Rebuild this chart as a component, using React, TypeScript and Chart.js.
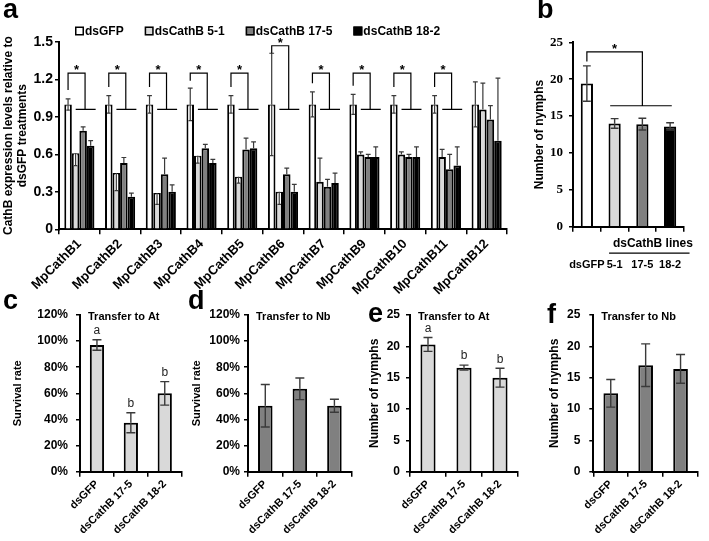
import React, { useEffect, useRef } from 'react';
import { Chart, registerables } from 'chart.js';
Chart.register(...registerables);

const FONT = "'Liberation Sans', Arial, Helvetica, sans-serif";
const SERIF = "'Liberation Serif', 'Times New Roman', serif";
Chart.defaults.font.family = FONT;
Chart.defaults.color = '#000';

// ---------- Panel a ----------
const genes = ['MpCathB1', 'MpCathB2', 'MpCathB3', 'MpCathB4', 'MpCathB5', 'MpCathB6', 'MpCathB7', 'MpCathB9', 'MpCathB10', 'MpCathB11', 'MpCathB12'];
const seriesNames = ['dsGFP', 'dsCathB 5-1', 'dsCathB 17-5', 'dsCathB 18-2'];
const aGFP = [1, 1, 1, 1, 1, 1, 1, 1, 1, 1, 1];
const aGFPErr = [0.045, 0.07, 0.07, 0.13, 0.07, 0.41, 0.1, 0.08, 0.07, 0.07, 0.18];
const a51 = [0.61, 0.45, 0.29, 0.59, 0.42, 0.3, 0.38, 0.6, 0.6, 0.58, 0.96];
const a51ErrUp = [0, 0, 0, 0, 0, 0, 0.19, 0.02, 0.02, 0.06, 0.21];
const a51ErrDown = [0.1, 0.14, 0.09, 0.06, 0.05, 0.1, 0, 0, 0, 0, 0];
const a175 = [0.79, 0.53, 0.44, 0.65, 0.64, 0.44, 0.34, 0.58, 0.58, 0.48, 0.88];
const a175Err = [0.03, 0.045, 0.13, 0.03, 0.09, 0.05, 0.06, 0.02, 0.02, 0.12, 0.11];
const a182 = [0.67, 0.26, 0.3, 0.53, 0.65, 0.3, 0.37, 0.58, 0.58, 0.51, 0.71];
const a182Err = [0.04, 0.03, 0.055, 0.03, 0.05, 0.06, 0.08, 0.08, 0.08, 0.15, 0.5];
const aBracketTop = [1.25, 1.25, 1.25, 1.25, 1.25, 1.47, 1.25, 1.25, 1.25, 1.25, null];
const aSigBase = 0.96;
const aYTitle = ['CathB expression levels relative to', 'dsGFP treatments'];

// ---------- Panel b ----------
const bLabels = ['dsGFP', '5-1', '17-5', '18-2'];
const bValues = [19.4, 14.0, 13.9, 13.6];
const bErr = [2.4, 0.65, 0.8, 0.5];
const bGroupLabel = 'dsCathB lines';
const bBracketTop = 23.7;
const bSigBase = 16.4;

// ---------- Panels c-f ----------
const cdefLabels = ['dsGFP', 'dsCathB 17-5', 'dsCathB 18-2'];
const cValues = [97, 37.5, 60];
const cErr = [4, 7.7, 9];
const cLetters = ['a', 'b', 'b'];
const dValues = [50.5, 63.5, 50.5];
const dErr = [16.3, 8.3, 5];
const eValues = [20.3, 16.6, 15.0];
const eErr = [1.1, 0.4, 1.5];
const eLetters = ['a', 'b', 'b'];
const fValues = [12.5, 17.0, 16.4];
const fErr = [2.2, 3.4, 2.3];

const WHITE = '#ffffff';
const LIGHT = '#d9d9d9';
const DARK = '#808080';
const BLACK = '#000000';

const PANELS = [
  { key: 'a', left: 0, top: 0, w: 520, h: 300 },
  { key: 'b', left: 520, top: 0, w: 189, h: 300 },
  { key: 'c', left: 0, top: 290, w: 190, h: 251 },
  { key: 'd', left: 185, top: 290, w: 175, h: 251 },
  { key: 'e', left: 360, top: 290, w: 170, h: 251 },
  { key: 'f', left: 530, top: 290, w: 179, h: 251 },
];

const errorBars = {
  id: 'errorBarsCustom',
  afterDatasetsDraw(chart: any) {
    const ctx = chart.ctx;
    const ys = chart.scales.y;
    chart.data.datasets.forEach((ds: any, di: number) => {
      const meta = chart.getDatasetMeta(di);
      meta.data.forEach((el: any, i: number) => {
        const v = ds.data[i];
        const up = ds.errUp ? ds.errUp[i] : 0;
        const dn = ds.errDown ? ds.errDown[i] : 0;
        const x = el.x;
        const w = el.width;
        const cap = Math.min(w * 0.32, 4.5);
        const yv = ys.getPixelForValue(v);
        ctx.save();
        ctx.strokeStyle = ds.errColor || '#3a3a3a';
        ctx.lineWidth = ds.errWidth || 1.4;
        if (dn) {
          const yd = ys.getPixelForValue(v - dn);
          if (ds.boxDown) {
            ctx.fillStyle = '#ffffff';
            ctx.fillRect(x - w / 2 + 2, yv + 1, w - 4, yd - yv - 1);
          }
          ctx.beginPath();
          ctx.moveTo(x, yv);
          ctx.lineTo(x, yd);
          ctx.moveTo(x - (ds.boxDown ? w / 2 - 2 : cap), yd);
          ctx.lineTo(x + (ds.boxDown ? w / 2 - 2 : cap), yd);
          ctx.stroke();
        }
        if (up) {
          const yu = ys.getPixelForValue(v + up);
          ctx.beginPath();
          ctx.moveTo(x, yv);
          ctx.lineTo(x, yu);
          ctx.moveTo(x - cap, yu);
          ctx.lineTo(x + cap, yu);
          ctx.stroke();
        }
        ctx.restore();
      });
    });
  },
};

function drawLetter(ctx: any, t: string, x: number, y: number) {
  ctx.save();
  ctx.fillStyle = '#000';
  ctx.font = `bold 27px ${FONT}`;
  ctx.textAlign = 'left';
  ctx.textBaseline = 'alphabetic';
  ctx.fillText(t, x, y);
  ctx.restore();
}

function scalesFor(o: any) {
  return {
    x: {
      grid: { display: true, drawOnChartArea: false, drawTicks: true, tickLength: 5, color: '#000', lineWidth: 1.5, offset: true },
      border: { display: true, color: '#000', width: 2 },
      ticks: {
        color: '#000',
        font: { size: o.xFontSize, weight: 'bold', family: FONT },
        minRotation: o.rot,
        maxRotation: o.rot,
        autoSkip: false,
        padding: o.xPad,
      },
      afterFit: (s: any) => { s.height = o.xh; },
    },
    y: {
      min: o.yMin,
      max: o.yMax,
      ticks: {
        stepSize: o.step,
        color: '#000',
        font: { size: o.yFontSize || 12, weight: 'bold', family: o.yFamily || FONT },
        padding: o.yPad,
        callback: o.yFmt,
      },
      grid: { drawOnChartArea: false, drawTicks: true, tickLength: 4, color: '#000', lineWidth: 1.5 },
      border: { display: true, color: '#000', width: 2 },
      title: {
        display: true,
        text: o.yTitle,
        color: '#000',
        font: { size: o.yTitleSize, weight: 'bold', family: FONT, lineHeight: 1.2 },
        padding: { top: o.yTitlePad, bottom: 0 },
      },
      afterFit: (s: any) => { s.width = o.yw; },
    },
  };
}

function baseOptions(o: any, scales: any) {
  return {
    responsive: false,
    animation: false,
    devicePixelRatio: 1,
    layout: { padding: { top: o.padTop, right: o.padRight, bottom: 0, left: 0 } },
    plugins: { legend: { display: false }, tooltip: { enabled: false }, title: { display: false } },
    scales,
  };
}

function buildA(canvas: HTMLCanvasElement) {
  const colors = [WHITE, LIGHT, DARK, BLACK];
  const values = [aGFP, a51, a175, a182];
  const ups = [aGFPErr, a51ErrUp, a175Err, a182Err];
  const downs = [aGFPErr, a51ErrDown, null, null];
  const datasets = seriesNames.map((n, i) => ({
    label: n,
    data: values[i],
    backgroundColor: colors[i],
    borderColor: '#000',
    borderWidth: 2,
    categoryPercentage: 0.74,
    barPercentage: 1.0,
    errUp: ups[i],
    errDown: downs[i],
    boxDown: true,
    errWidth: 1.2,
  }));
  const extra = {
    id: 'aExtra',
    afterDatasetsDraw(chart: any) {
      const ctx = chart.ctx;
      const xs = chart.scales.x;
      const ys = chart.scales.y;
      const m0 = chart.getDatasetMeta(0);
      const cw = xs.getPixelForValue(1) - xs.getPixelForValue(0);
      ctx.save();
      ctx.strokeStyle = '#000';
      ctx.lineWidth = 1.2;
      ctx.fillStyle = '#000';
      ctx.font = `bold 13px ${FONT}`;
      ctx.textAlign = 'center';
      ctx.textBaseline = 'alphabetic';
      genes.forEach((g, i) => {
        const top = aBracketTop[i];
        if (top == null) return;
        const c = xs.getPixelForValue(i);
        const xL = m0.data[i].x;
        const xR = c + 0.14 * cw;
        const lb = Math.min(aGFP[i] + aGFPErr[i] + 0.07, top - 0.06);
        const yT = ys.getPixelForValue(top);
        const yLB = ys.getPixelForValue(lb);
        const yB = ys.getPixelForValue(aSigBase);
        ctx.beginPath();
        ctx.moveTo(xL, yLB);
        ctx.lineTo(xL, yT);
        ctx.lineTo(xR, yT);
        ctx.lineTo(xR, yB);
        ctx.moveTo(c - 0.09 * cw, yB);
        ctx.lineTo(c + 0.4 * cw, yB);
        ctx.stroke();
        ctx.fillText('*', (xL + xR) / 2, yT + 1);
      });
      ctx.restore();
    },
    afterDraw(chart: any) {
      const ctx = chart.ctx;
      // legend
      ctx.save();
      ctx.font = `bold 12px ${FONT}`;
      ctx.textBaseline = 'middle';
      ctx.textAlign = 'left';
      let x = 75;
      const y = 31;
      seriesNames.forEach((n, i) => {
        ctx.fillStyle = colors[i];
        ctx.fillRect(x, y - 4.5, 9, 9);
        ctx.strokeStyle = '#000';
        ctx.lineWidth = 1.5;
        ctx.strokeRect(x + 0.75, y - 3.75, 7.5, 7.5);
        ctx.fillStyle = '#000';
        ctx.fillText(n, x + 10, y + 0.5);
        x += 10 + ctx.measureText(n).width + 21;
      });
      ctx.restore();
      drawLetter(ctx, 'a', 3, 18);
    },
  };
  const o = { xFontSize: 13, rot: 45, xPad: 2, xh: 70.7, yMin: 0, yMax: 1.5, step: 0.3, yPad: 2, yFontSize: 14, yFmt: (v: number) => (v === 0 ? '0' : v.toFixed(1)), yTitle: aYTitle, yTitleSize: 12, yTitlePad: 1, yw: 59, padTop: 42, padRight: 13 };
  return new Chart(canvas, {
    type: 'bar',
    data: { labels: genes, datasets },
    options: baseOptions(o, scalesFor(o)) as any,
    plugins: [errorBars, extra],
  } as any);
}

function buildB(canvas: HTMLCanvasElement) {
  const extra = {
    id: 'bExtra',
    afterDatasetsDraw(chart: any) {
      const ctx = chart.ctx;
      const xs = chart.scales.x;
      const ys = chart.scales.y;
      const cw = xs.getPixelForValue(1) - xs.getPixelForValue(0);
      const xL = xs.getPixelForValue(0);
      const xR = xs.getPixelForValue(2);
      const yT = ys.getPixelForValue(bBracketTop);
      const yLB = ys.getPixelForValue(bValues[0] + bErr[0] + 0.6);
      const yB = ys.getPixelForValue(bSigBase);
      ctx.save();
      ctx.strokeStyle = '#000';
      ctx.lineWidth = 1.2;
      ctx.beginPath();
      ctx.moveTo(xL, yLB);
      ctx.lineTo(xL, yT);
      ctx.lineTo(xR, yT);
      ctx.lineTo(xR, yB);
      ctx.moveTo(xs.getPixelForValue(1) - 0.16 * cw, yB);
      ctx.lineTo(xs.getPixelForValue(3) + 0.06 * cw, yB);
      ctx.stroke();
      ctx.fillStyle = '#000';
      ctx.font = `bold 13px ${FONT}`;
      ctx.textAlign = 'center';
      ctx.fillText('*', (xL + xR) / 2, yT + 1);
      ctx.restore();
    },
    afterDraw(chart: any) {
      const ctx = chart.ctx;
      const xs = chart.scales.x;
      const cw = xs.getPixelForValue(1) - xs.getPixelForValue(0);
      const bottom = chart.chartArea.bottom;
      ctx.save();
      ctx.fillStyle = '#000';
      ctx.font = `bold 12px ${FONT}`;
      ctx.textAlign = 'center';
      ctx.textBaseline = 'middle';
      ctx.fillText(bGroupLabel, xs.getPixelForValue(2) + 0.38 * cw, bottom + 17);
      ctx.strokeStyle = '#000';
      ctx.lineWidth = 1.2;
      ctx.beginPath();
      ctx.moveTo(xs.getPixelForValue(1) - 0.2 * cw, bottom + 26.5);
      ctx.lineTo(xs.getPixelForValue(3) + 0.7 * cw, bottom + 26.5);
      ctx.stroke();
      ctx.restore();
      drawLetter(ctx, 'b', 17, 18);
    },
  };
  const o = { xFontSize: 11, rot: 0, xPad: 27, xh: 73.3, yMin: 0, yMax: 25, step: 5, yPad: 6, yFontSize: 13, yFamily: SERIF, yTitle: 'Number of nymphs', yTitleSize: 12, yTitlePad: 12.8, yw: 53, padTop: 42.3, padRight: 7 };
  return new Chart(canvas, {
    type: 'bar',
    data: {
      labels: bLabels,
      datasets: [{
        data: bValues,
        backgroundColor: [WHITE, LIGHT, DARK, BLACK],
        borderColor: '#000',
        borderWidth: 2,
        categoryPercentage: 1,
        barPercentage: 0.44,
        errUp: bErr,
        errDown: bErr,
      }],
    },
    options: baseOptions(o, scalesFor(o)) as any,
    plugins: [errorBars, extra],
  } as any);
}

function buildSmall(canvas: HTMLCanvasElement, cfg: any) {
  const extra = {
    id: 'smallExtra',
    afterDraw(chart: any) {
      const ctx = chart.ctx;
      const ca = chart.chartArea;
      const ys = chart.scales.y;
      const meta = chart.getDatasetMeta(0);
      ctx.save();
      ctx.fillStyle = '#000';
      ctx.font = `bold 11px ${FONT}`;
      ctx.textAlign = 'left';
      ctx.textBaseline = 'middle';
      ctx.fillText(cfg.title, ca.left + 8, ca.top + 2);
      if (cfg.letters) {
        ctx.font = `12px ${FONT}`;
        ctx.fillStyle = '#222';
        ctx.textAlign = 'center';
        cfg.letters.forEach((l: string, i: number) => {
          const yc = ys.getPixelForValue(cfg.values[i] + cfg.err[i]);
          ctx.fillText(l, meta.data[i].x, yc - 9);
        });
      }
      ctx.restore();
      drawLetter(ctx, cfg.letter, cfg.lx, cfg.ly);
    },
  };
  const o = {
    xFontSize: 11, rot: 45, xPad: 1, xh: 69.3, yMin: 0, yMax: cfg.yMax, step: cfg.step, yPad: cfg.yPad,
    yFmt: cfg.pct ? (v: number) => v + '%' : undefined,
    yTitle: cfg.yTitle, yTitleSize: cfg.yTitleSize, yTitlePad: cfg.yTitlePad, yw: cfg.yw, padTop: 25, padRight: cfg.padRight,
  };
  return new Chart(canvas, {
    type: 'bar',
    data: {
      labels: cdefLabels,
      datasets: [{
        data: cfg.values,
        backgroundColor: cfg.color,
        borderColor: '#000',
        borderWidth: 2,
        categoryPercentage: 1,
        barPercentage: 0.42,
        errUp: cfg.err,
        errDown: cfg.err,
      }],
    },
    options: baseOptions(o, scalesFor(o)) as any,
    plugins: [errorBars, extra],
  } as any);
}

export default function App() {
  const r0 = useRef<HTMLCanvasElement>(null);
  const r1 = useRef<HTMLCanvasElement>(null);
  const r2 = useRef<HTMLCanvasElement>(null);
  const r3 = useRef<HTMLCanvasElement>(null);
  const r4 = useRef<HTMLCanvasElement>(null);
  const r5 = useRef<HTMLCanvasElement>(null);
  const refs = [r0, r1, r2, r3, r4, r5];

  useEffect(() => {
    const charts = [
      buildA(r0.current!),
      buildB(r1.current!),
      buildSmall(r2.current!, { values: cValues, err: cErr, letters: cLetters, color: LIGHT, title: 'Transfer to At', yMax: 120, step: 20, pct: true, yTitle: 'Survival rate', yTitleSize: 11, yTitlePad: 11.4, yPad: 8, yw: 80, padRight: 8.3, letter: 'c', lx: 3, ly: 19 }),
      buildSmall(r3.current!, { values: dValues, err: dErr, color: DARK, title: 'Transfer to Nb', yMax: 120, step: 20, pct: true, yTitle: 'Survival rate', yTitleSize: 11, yTitlePad: 5.4, yPad: 4, yw: 63, padRight: 8.3, letter: 'd', lx: 3, ly: 19 }),
      buildSmall(r4.current!, { values: eValues, err: eErr, letters: eLetters, color: LIGHT, title: 'Transfer to At', yMax: 25, step: 5, pct: false, yTitle: 'Number of nymphs', yTitleSize: 12, yTitlePad: 7.8, yPad: 6, yw: 50, padRight: 12, letter: 'e', lx: 8, ly: 32 }),
      buildSmall(r5.current!, { values: fValues, err: fErr, color: DARK, title: 'Transfer to Nb', yMax: 25, step: 5, pct: false, yTitle: 'Number of nymphs', yTitleSize: 12, yTitlePad: 17.8, yPad: 9, yw: 63.3, padRight: 11, letter: 'f', lx: 17, ly: 33 }),
    ];
    return () => charts.forEach((c) => c.destroy());
  }, []);

  return (
    <div style={{ position: 'absolute', left: 0, top: 0, width: 709, height: 541, background: '#fff', overflow: 'hidden' }}>
      {PANELS.map((p, i) => (
        <canvas
          key={p.key}
          ref={refs[i]}
          width={p.w}
          height={p.h}
          style={{ position: 'absolute', left: p.left, top: p.top, width: p.w, height: p.h }}
        />
      ))}
    </div>
  );
}
